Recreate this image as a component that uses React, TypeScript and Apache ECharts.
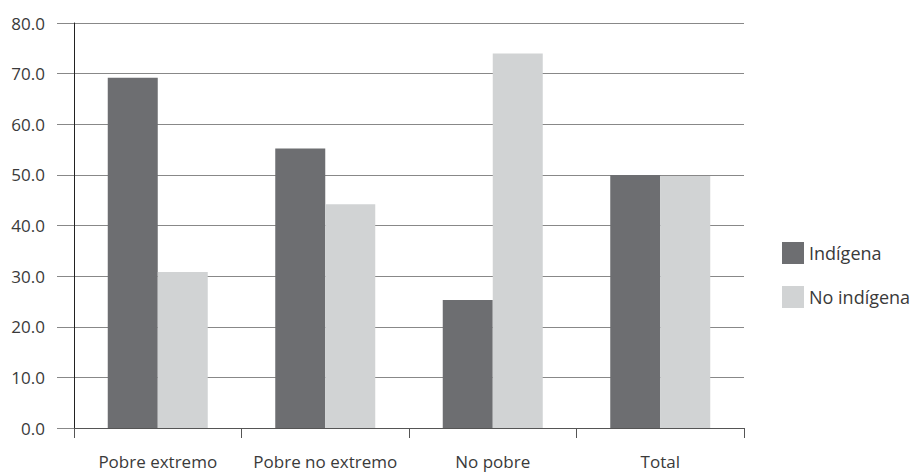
import React, { useEffect, useRef } from "react";
import * as echarts from "echarts";

const categories = ["Pobre extremo", "Pobre no extremo", "No pobre", "Total"];
const indigena = [69.2, 55.2, 25.3, 50.0];
const noIndigena = [30.8, 44.2, 74.0, 49.8];
const seriesNames = ["Indígena", "No indígena"];

export default function App() {
  const ref = useRef<HTMLDivElement>(null);
  useEffect(() => {
    if (!ref.current) return;
    const chart = echarts.init(ref.current, null, { renderer: "svg" });
    const font = "'Open Sans', 'Noto Sans', sans-serif";
    chart.setOption({
      animation: false,
      textStyle: { fontFamily: font },
      grid: { left: 74, right: 173, top: 23, bottom: 44, containLabel: false },
      legend: {
        orient: "vertical",
        left: 782,
        top: 242,
        padding: 0,
        itemWidth: 22,
        itemHeight: 22,
        itemGap: 22,
        icon: "rect",
        textStyle: { fontSize: 18, color: "#3a3a3a", fontFamily: font },
        data: seriesNames,
      },
      xAxis: {
        type: "category",
        data: categories,
        axisLine: { show: true, lineStyle: { color: "#555", width: 1 } },
        axisTick: { show: true, length: 10, interval: 0, alignWithLabel: false, lineStyle: { color: "#555" } },
        axisLabel: {
          interval: 0,
          hideOverlap: false,
          fontSize: 17,
          lineHeight: 18,
          color: "#3a3a3a",
          margin: 24,
          fontFamily: font,
        },
      },
      yAxis: {
        type: "value",
        min: 0,
        max: 80,
        interval: 10,
        axisLine: { show: true, lineStyle: { color: "#222", width: 1 } },
        axisTick: { show: true, length: 17, lineStyle: { color: "#888" } },
        axisLabel: {
          fontSize: 17,
          color: "#3a3a3a",
          margin: 29,
          fontFamily: font,
          formatter: (v: number) => v.toFixed(1),
        },
        splitLine: { show: true, lineStyle: { color: "#888", width: 1 } },
      },
      series: [
        {
          name: seriesNames[0],
          type: "bar",
          data: indigena,
          barWidth: 50,
          barGap: "0%",
          itemStyle: { color: "#6d6e71" },
        },
        {
          name: seriesNames[1],
          type: "bar",
          data: noIndigena,
          barWidth: 50,
          barGap: "0%",
          itemStyle: { color: "#d1d3d4" },
        },
      ],
    });
    return () => chart.dispose();
  }, []);
  return <div ref={ref} style={{ width: 917, height: 472, position: "absolute", left: 0, top: 0 }} />;
}
